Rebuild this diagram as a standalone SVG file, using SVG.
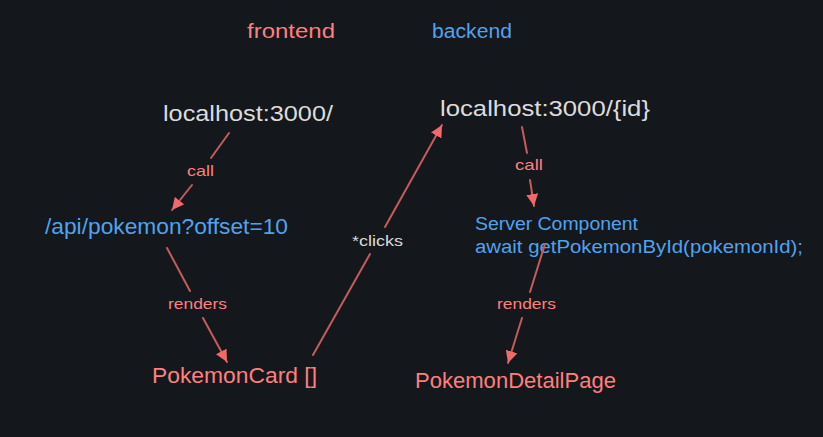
<svg xmlns="http://www.w3.org/2000/svg" width="823" height="437" viewBox="0 0 823 437">
<defs>
<style>
text{font-family:"Liberation Sans","DejaVu Sans",sans-serif;}
.red{fill:#ff7f7f;}
.blue{fill:#4fa3ec;}
.white{fill:#dcdcdc;}
.big{font-size:22px;}
.mid{font-size:18px;}
.lbl{font-size:15px;}
.ln{stroke:#c45c5c;stroke-width:2;fill:none;stroke-linecap:round;}
</style>
<marker id="ah" markerUnits="userSpaceOnUse" markerWidth="14" markerHeight="12" refX="12" refY="6" orient="auto">
<path d="M0,0 L12,6 L0,12 Z" fill="#f06a6a"/>
</marker>
</defs>
<rect width="823" height="437" fill="#14171c"/>
<g id="title-frontend"><text class="red" x="247" y="38" font-size="20" textLength="88" lengthAdjust="spacingAndGlyphs">frontend</text></g>
<g id="title-backend"><text class="blue" x="432" y="38" font-size="20" textLength="80" lengthAdjust="spacingAndGlyphs">backend</text></g>
<g id="node-localhost"><text class="white big" x="163" y="121" textLength="170" lengthAdjust="spacingAndGlyphs">localhost:3000/</text></g>
<g id="node-api"><text class="blue big" x="45" y="234" textLength="243" lengthAdjust="spacingAndGlyphs">/api/pokemon?offset=10</text></g>
<g id="node-card"><text class="red big" x="152" y="383" textLength="165" lengthAdjust="spacingAndGlyphs">PokemonCard []</text></g>
<g id="node-localhost-id"><text class="white big" x="440" y="116" textLength="210" lengthAdjust="spacingAndGlyphs">localhost:3000/{id}</text></g>
<g id="node-server"><text class="blue mid" x="475" y="230" textLength="163" lengthAdjust="spacingAndGlyphs">Server Component</text><text class="blue mid" x="475" y="253" textLength="328" lengthAdjust="spacingAndGlyphs">await getPokemonById(pokemonId);</text></g>
<g id="node-detail"><text class="red big" x="415" y="388" textLength="201" lengthAdjust="spacingAndGlyphs">PokemonDetailPage</text></g>
<g id="connectors">
<path class="ln" d="M229,133 L211,158"/>
<path class="ln" d="M192,185 L172,210" marker-end="url(#ah)"/>
<text class="red lbl" x="187" y="176" textLength="27" lengthAdjust="spacingAndGlyphs">call</text>
<path class="ln" d="M167,248 L190,291"/>
<path class="ln" d="M203,318 L227,362" marker-end="url(#ah)"/>
<text class="red lbl" x="168" y="309" textLength="59" lengthAdjust="spacingAndGlyphs">renders</text>
<path class="ln" d="M313,355 L370,254"/>
<path class="ln" d="M385,227 L442,125" marker-end="url(#ah)"/>
<text class="white lbl" x="352" y="246" textLength="51" lengthAdjust="spacingAndGlyphs">*clicks</text>
<path class="ln" d="M522,127 L527,153"/>
<path class="ln" d="M530,180 L534,206" marker-end="url(#ah)"/>
<text class="red lbl" x="515" y="170" textLength="28" lengthAdjust="spacingAndGlyphs">call</text>
<path class="ln" d="M545,244 L530,292"/>
<path class="ln" d="M522,318 L508,363" marker-end="url(#ah)"/>
<text class="red lbl" x="497" y="309" textLength="59" lengthAdjust="spacingAndGlyphs">renders</text>
</g>
</svg>
